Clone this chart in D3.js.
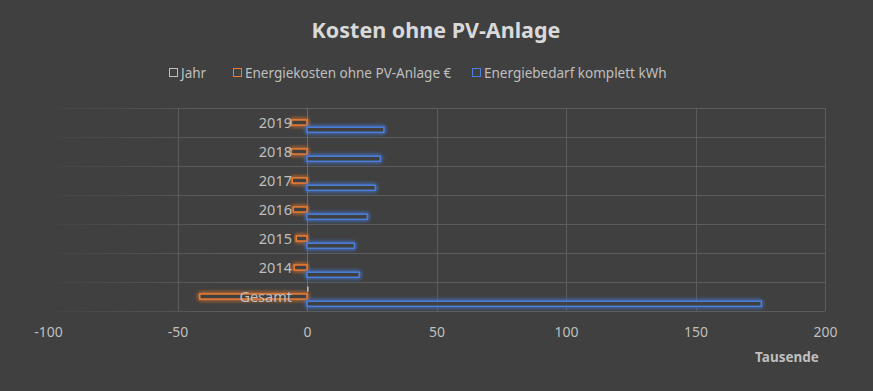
<!DOCTYPE html>
<html>
<head>
<meta charset="utf-8">
<script src="https://cdn.jsdelivr.net/npm/d3@7"></script>
<style>
  body { margin:0; background:#404040; }
  svg { display:block; }
</style>
</head>
<body>
<script>
// data (Tausende)
var categories = ["Gesamt", "2014", "2015", "2016", "2017", "2018", "2019"];
var seriesNames = ["Jahr", "Energiekosten ohne PV-Anlage €", "Energiebedarf komplett kWh"];
var jahr = [0.6, 0, 0, 0, 0, 0, 0];
var kosten = [-41.4, -4.9, -4.1, -5.3, -5.7, -6.0, -6.0];
var bedarf = [175.4, 20.2, 18.3, 23.3, 26.4, 28.3, 29.7];
var xTicks = [-100, -50, 0, 50, 100, 150, 200];

var width = 873, height = 391,
    colors = ["#bfbfbf", "#ED7D31", "#4A7FDB"],
    font = "'Noto Sans', sans-serif",
    svg = d3.select("body").append("svg").attr("width", width).attr("height", height);

svg.append("rect").attr("width", width).attr("height", height).attr("fill", "#404040");

var defs = svg.append("defs");
var glow = defs.append("filter").attr("id", "glow")
    .attr("x", "-20%").attr("y", "-200%").attr("width", "140%").attr("height", "500%");
glow.append("feGaussianBlur").attr("in", "SourceGraphic").attr("stdDeviation", 2.2).attr("result", "blur");
var merge = glow.append("feMerge");
merge.append("feMergeNode").attr("in", "blur");
merge.append("feMergeNode").attr("in", "blur");
merge.append("feMergeNode").attr("in", "SourceGraphic");

var grad = defs.append("linearGradient").attr("id", "gridfade")
    .attr("gradientUnits", "userSpaceOnUse").attr("x1", 48).attr("x2", 825).attr("y1", 0).attr("y2", 0);
grad.append("stop").attr("offset", "0%").attr("stop-color", "#5c5c5c").attr("stop-opacity", 0.05);
grad.append("stop").attr("offset", "22%").attr("stop-color", "#5c5c5c").attr("stop-opacity", 1);
grad.append("stop").attr("offset", "100%").attr("stop-color", "#5c5c5c").attr("stop-opacity", 1);

var x = d3.scaleLinear().domain([-100, 200]).range([48, 825]);
var y = d3.scaleBand().domain(categories.slice().reverse()).range([108, 311]);
var ySub = d3.scaleBand().domain(seriesNames).range([2.5, 26.5]).padding(0.3);

// title
svg.append("text").attr("x", 436).attr("y", 38).attr("text-anchor", "middle")
   .attr("font-family", font).attr("font-size", 21.5).attr("font-weight", "bold")
   .attr("fill", "#d9d9d9").text("Kosten ohne PV-Anlage");

// gridlines
var grid = svg.append("g");
grid.selectAll("line.h").data(d3.range(categories.length + 1)).enter().append("line")
    .attr("x1", 48).attr("x2", 825)
    .attr("y1", function(d){ return Math.round(108 + d * y.step()) + 0.5; })
    .attr("y2", function(d){ return Math.round(108 + d * y.step()) + 0.5; })
    .attr("stroke", "url(#gridfade)").attr("stroke-width", 1);
grid.selectAll("line.v").data(xTicks.filter(function(d){ return d > -100; })).enter().append("line")
    .attr("x1", function(d){ return Math.round(x(d)) + 0.5; })
    .attr("x2", function(d){ return Math.round(x(d)) + 0.5; })
    .attr("y1", 108).attr("y2", 311)
    .attr("stroke", function(d){ return d == 0 ? "#6a6a6a" : "#5c5c5c"; });

// bars
var series = [jahr, kosten, bedarf];
var bars = svg.append("g");
series.forEach(function(vals, s){
  if (s == 0) {
    bars.selectAll("rect.s0").data(vals).enter().append("rect")
        .filter(function(d){ return d != 0; })
        .attr("x", function(d){ return x(Math.min(0, d)); })
        .attr("width", function(d){ return Math.abs(x(d) - x(0)); })
        .attr("y", function(d, i){ return y(categories[i]) + ySub(seriesNames[s]); })
        .attr("height", ySub.bandwidth())
        .attr("fill", colors[0]);
    return;
  }
  bars.selectAll("rect.s" + s).data(vals).enter().append("rect")
      .attr("class", "s" + s)
      .attr("x", function(d){ return x(Math.min(0, d)); })
      .attr("width", function(d){ return Math.abs(x(d) - x(0)); })
      .attr("y", function(d, i){ return y(categories[i]) + ySub(seriesNames[s]); })
      .attr("height", ySub.bandwidth())
      .attr("fill", "#404040")
      .attr("stroke", colors[s]).attr("stroke-width", 1.5)
      .attr("filter", "url(#glow)");
});

// category labels
svg.append("g").selectAll("text").data(categories).enter().append("text")
   .attr("x", 292).attr("y", function(d){ return y(d) + y.bandwidth() / 2 + 5; })
   .attr("text-anchor", "end").attr("font-family", font).attr("font-size", 14.5)
   .attr("fill", "#bfbfbf").text(function(d){ return d; });

// x axis
var xAxis = d3.axisBottom(x).tickValues(xTicks).tickSize(0).tickPadding(0)
    .tickFormat(function(d){ return String(d); });
var ax = svg.append("g").attr("transform", "translate(0,327)").call(xAxis);
ax.select(".domain").remove();
ax.selectAll("text").attr("font-family", font).attr("font-size", 14)
  .attr("fill", "#bfbfbf").attr("dy", "0.71em");

svg.append("text").attr("x", 787).attr("y", 362).attr("text-anchor", "middle")
   .attr("font-family", font).attr("font-size", 13.5).attr("font-weight", "bold")
   .attr("fill", "#bfbfbf").text("Tausende");

// legend
var legendX = [169, 233, 472];
var legend = svg.append("g").selectAll("g").data(seriesNames).enter().append("g")
    .attr("transform", function(d, i){ return "translate(" + legendX[i] + ",68)"; });
legend.append("rect").attr("x", 0.5).attr("y", 0.5).attr("width", 8).attr("height", 8)
    .attr("fill", "none").attr("stroke", function(d, i){ return colors[i]; });
legend.append("text").attr("x", 12).attr("y", 9.5)
    .attr("font-family", font).attr("font-size", 13.5).attr("fill", "#bfbfbf")
    .text(function(d){ return d; });
</script>
</body>
</html>
